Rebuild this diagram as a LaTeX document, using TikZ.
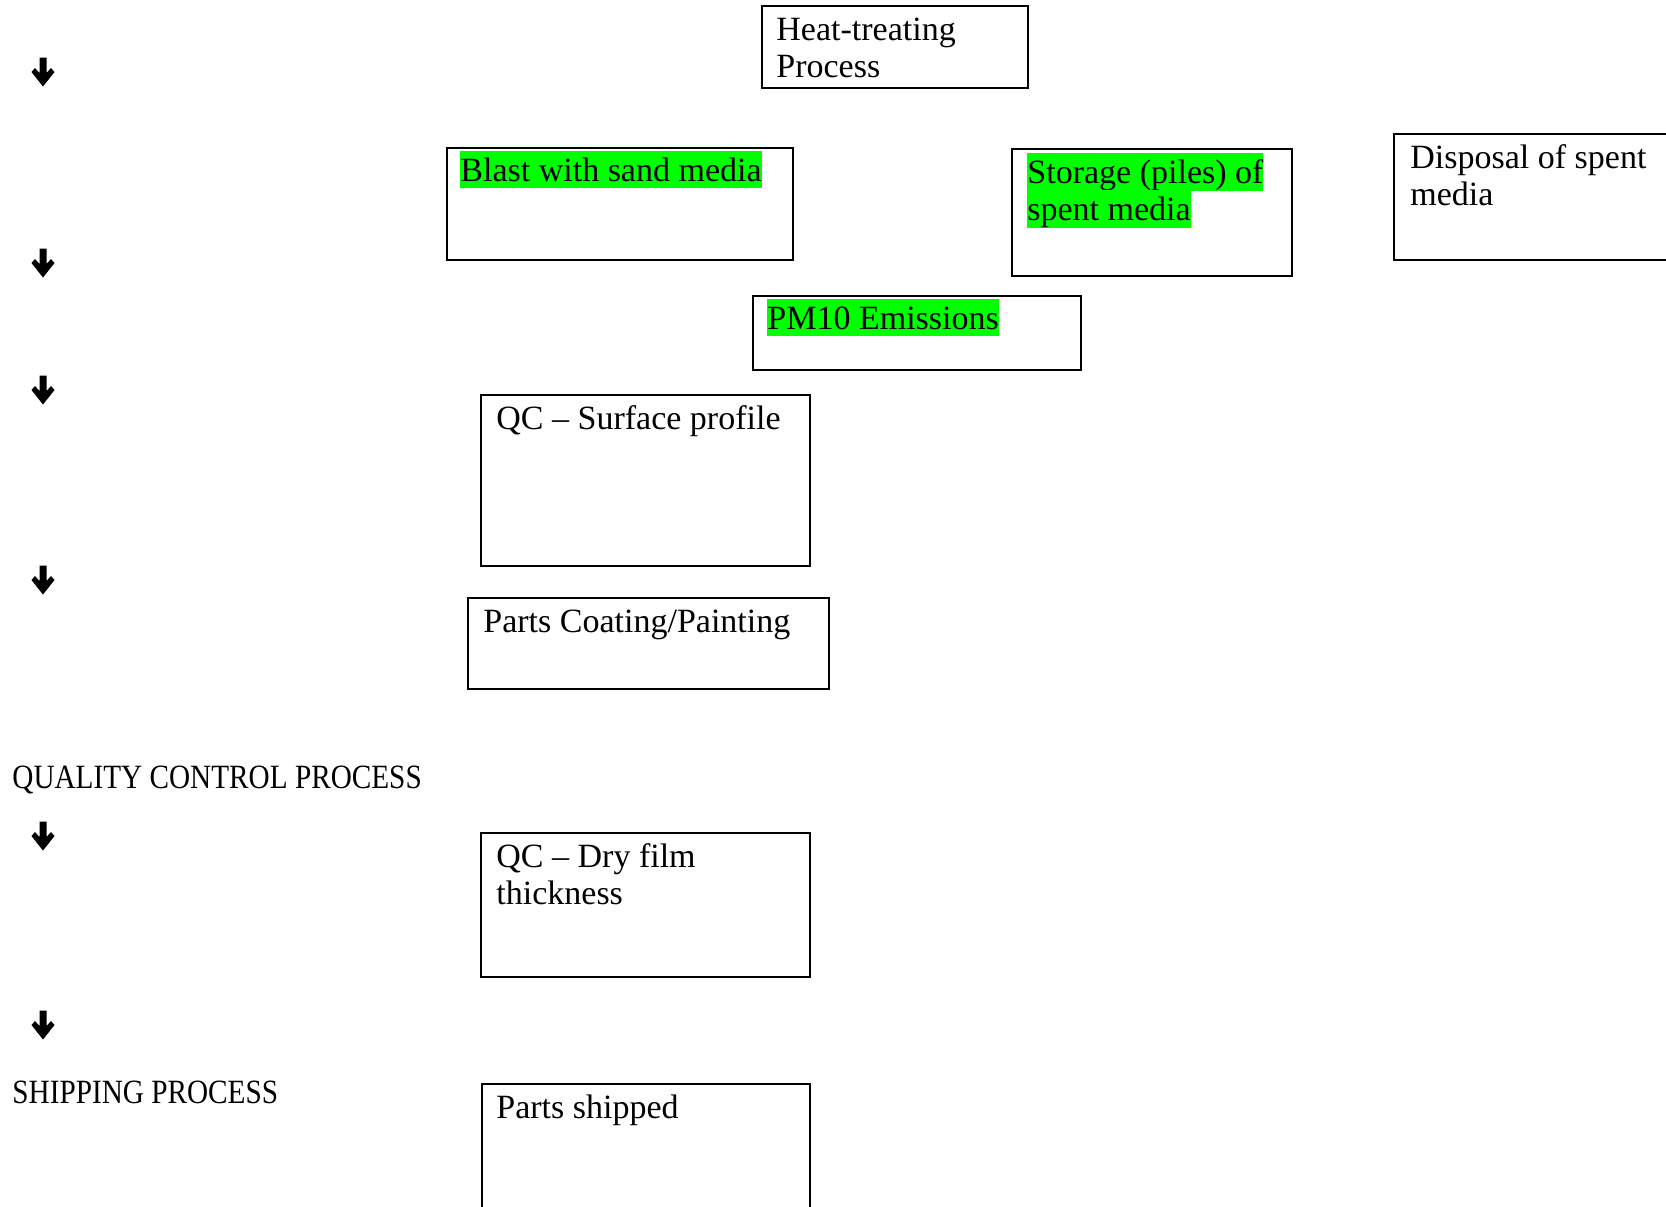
\documentclass[tikz,border=0pt]{standalone}
\usepackage{fontspec}
\setmainfont{Liberation Serif}
\newfontfamily\capsfont[FakeStretch=0.86]{Liberation Serif}
\definecolor{hlgreen}{HTML}{00FF00}
\newcommand\boxfont{\fontsize{17}{18.5}\selectfont\lineskiplimit=-10pt\relax}
\newcommand\lnstrut{\rule[-3.5pt]{0pt}{18.5pt}}
\newcommand\hlmark[1]{{\setlength{\fboxsep}{0pt}\colorbox{hlgreen}{\lnstrut#1}}}
\tikzset{
  procbox/.style={draw, line width=1.2pt, anchor=north west, inner sep=0pt},
  boxtext/.style={anchor=north west, inner sep=0pt, align=left},
  dnarrow/.pic={\fill (-3.5,-14.5) -- (3.5,-14.5) -- (3.5,1) -- (8,-4) -- (11.5,0) -- (0,14.5) -- (-11.5,0) -- (-8,-4) -- (-3.5,1) -- cycle;}
}
\begin{document}
\begin{tikzpicture}[x=0.5pt,y=-0.5pt,line join=miter,font=\boxfont]
  \useasboundingbox (0,0) rectangle (1666,1206);
  % process boxes
  \node[procbox, minimum width=133pt, minimum height=41pt] (heat) at (761,5) {};
  \node[procbox, minimum width=173pt, minimum height=56pt] (blast) at (446,147) {};
  \node[procbox, minimum width=140pt, minimum height=63.5pt] (storage) at (1011,148) {};
  \node[procbox, minimum width=145pt, minimum height=63pt] (disposal) at (1393,133) {};
  \node[procbox, minimum width=164pt, minimum height=37pt] (pm) at (752,295) {};
  \node[procbox, minimum width=164.5pt, minimum height=85.5pt] (qcsurf) at (480,394) {};
  \node[procbox, minimum width=180.5pt, minimum height=45.5pt] (coating) at (467,597) {};
  \node[procbox, minimum width=164.5pt, minimum height=72pt] (qcdry) at (480,832) {};
  \node[procbox, minimum width=164pt, minimum height=75pt] (shipped) at (481,1083) {};
  % box texts
  \node[boxtext] (heattxt) at ([shift={(15,5)}]heat.north west) {\lnstrut Heat-treating\\\lnstrut Process};
  \node[boxtext] (blasttxt) at ([shift={(14,4)}]blast.north west) {\hlmark{Blast with sand media}};
  \node[boxtext] (storagetxt) at ([shift={(16,5)}]storage.north west) {\hlmark{Storage (piles) of}\\\hlmark{spent media}};
  \node[boxtext] (disposaltxt) at ([shift={(17,5)}]disposal.north west) {\lnstrut Disposal of spent\\\lnstrut media};
  \node[boxtext] (pmtxt) at ([shift={(15,4)}]pm.north west) {\hlmark{PM10 Emissions}};
  \node[boxtext] (qcsurftxt) at ([shift={(16,5)}]qcsurf.north west) {\lnstrut QC – Surface profile};
  \node[boxtext] (coatingtxt) at ([shift={(16,5)}]coating.north west) {\lnstrut Parts Coating/Painting};
  \node[boxtext] (qcdrytxt) at ([shift={(16,5)}]qcdry.north west) {\lnstrut QC – Dry film\\\lnstrut thickness};
  \node[boxtext] (shippedtxt) at ([shift={(15,5)}]shipped.north west) {\lnstrut Parts shipped};
  % process headings
  \node[anchor=base west, inner sep=0pt, font=\boxfont\capsfont] (qchead) at (12,788) {QUALITY CONTROL PROCESS};
  \node[anchor=base west, inner sep=0pt, font=\boxfont\capsfont] (shiphead) at (12,1103) {SHIPPING PROCESS};
  % left column arrows
  \foreach \y in {72,263,390,580,836,1025}
    \pic at (43,\y) {dnarrow};
\end{tikzpicture}
\end{document}
